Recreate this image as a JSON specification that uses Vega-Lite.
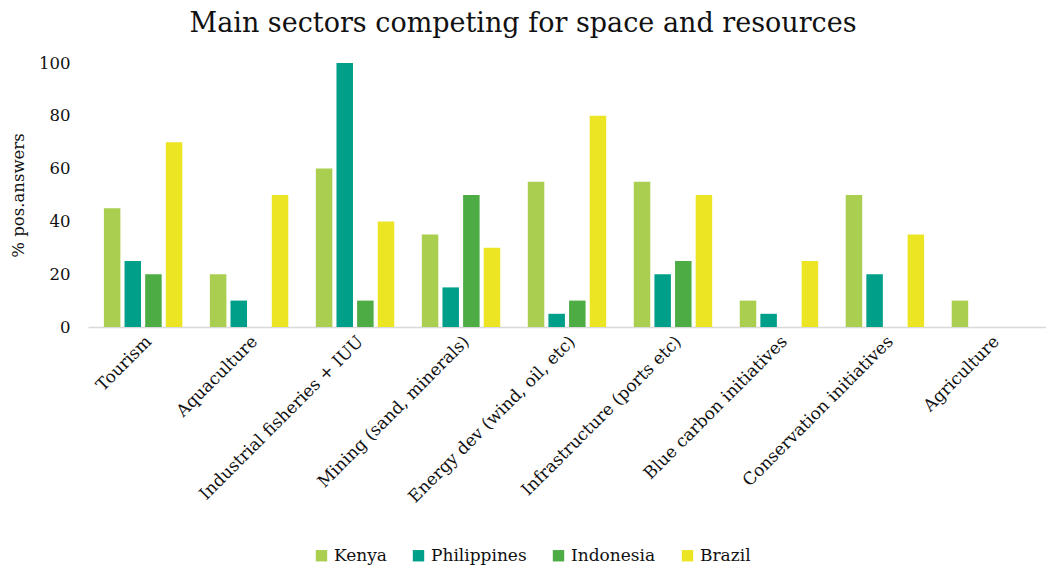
{
  "$schema": "https://vega.github.io/schema/vega-lite/v6.json",
  "width": 958,
  "height": 264,
  "autosize": {"type": "none"},
  "padding": {"left": 88, "top": 63, "right": 0, "bottom": 242},
  "background": "white",
  "title": {
    "text": "Main sectors competing for space and resources",
    "font": "DejaVu Serif",
    "fontSize": 27,
    "fontWeight": "normal",
    "color": "#111111",
    "anchor": "middle",
    "dx": -44,
    "offset": 17
  },
  "config": {
    "view": {"stroke": null},
    "font": "DejaVu Serif"
  },
  "data": {
    "values": [
      {"sector": "Tourism", "country": "Kenya", "value": 45},
      {"sector": "Tourism", "country": "Philippines", "value": 25},
      {"sector": "Tourism", "country": "Indonesia", "value": 20},
      {"sector": "Tourism", "country": "Brazil", "value": 70},
      {"sector": "Aquaculture", "country": "Kenya", "value": 20},
      {"sector": "Aquaculture", "country": "Philippines", "value": 10},
      {"sector": "Aquaculture", "country": "Indonesia", "value": 0},
      {"sector": "Aquaculture", "country": "Brazil", "value": 50},
      {"sector": "Industrial fisheries + IUU", "country": "Kenya", "value": 60},
      {"sector": "Industrial fisheries + IUU", "country": "Philippines", "value": 100},
      {"sector": "Industrial fisheries + IUU", "country": "Indonesia", "value": 10},
      {"sector": "Industrial fisheries + IUU", "country": "Brazil", "value": 40},
      {"sector": "Mining (sand, minerals)", "country": "Kenya", "value": 35},
      {"sector": "Mining (sand, minerals)", "country": "Philippines", "value": 15},
      {"sector": "Mining (sand, minerals)", "country": "Indonesia", "value": 50},
      {"sector": "Mining (sand, minerals)", "country": "Brazil", "value": 30},
      {"sector": "Energy dev (wind, oil, etc)", "country": "Kenya", "value": 55},
      {"sector": "Energy dev (wind, oil, etc)", "country": "Philippines", "value": 5},
      {"sector": "Energy dev (wind, oil, etc)", "country": "Indonesia", "value": 10},
      {"sector": "Energy dev (wind, oil, etc)", "country": "Brazil", "value": 80},
      {"sector": "Infrastructure (ports etc)", "country": "Kenya", "value": 55},
      {"sector": "Infrastructure (ports etc)", "country": "Philippines", "value": 20},
      {"sector": "Infrastructure (ports etc)", "country": "Indonesia", "value": 25},
      {"sector": "Infrastructure (ports etc)", "country": "Brazil", "value": 50},
      {"sector": "Blue carbon initiatives", "country": "Kenya", "value": 10},
      {"sector": "Blue carbon initiatives", "country": "Philippines", "value": 5},
      {"sector": "Blue carbon initiatives", "country": "Indonesia", "value": 0},
      {"sector": "Blue carbon initiatives", "country": "Brazil", "value": 25},
      {"sector": "Conservation initiatives", "country": "Kenya", "value": 50},
      {"sector": "Conservation initiatives", "country": "Philippines", "value": 20},
      {"sector": "Conservation initiatives", "country": "Indonesia", "value": 0},
      {"sector": "Conservation initiatives", "country": "Brazil", "value": 35},
      {"sector": "Agriculture", "country": "Kenya", "value": 10},
      {"sector": "Agriculture", "country": "Philippines", "value": 0},
      {"sector": "Agriculture", "country": "Indonesia", "value": 0},
      {"sector": "Agriculture", "country": "Brazil", "value": 0}
    ]
  },
  "mark": {"type": "bar"},
  "encoding": {
    "x": {
      "field": "sector",
      "type": "nominal",
      "sort": null,
      "scale": {"paddingInner": 0.26, "paddingOuter": 0.15},
      "axis": {
        "title": null,
        "labelAngle": -45,
        "labelFont": "DejaVu Serif",
        "labelFontSize": 17,
        "labelColor": "#111111",
        "labelPadding": 6,
        "ticks": false,
        "domainColor": "#d9d9d9",
        "domainWidth": 1.5,
        "labelLimit": 400
      }
    },
    "xOffset": {
      "field": "country",
      "type": "nominal",
      "sort": ["Kenya", "Philippines", "Indonesia", "Brazil"],
      "scale": {"paddingInner": 0.2}
    },
    "y": {
      "field": "value",
      "type": "quantitative",
      "scale": {"domain": [0, 100]},
      "axis": {
        "title": "% pos.answers",
        "titleFont": "DejaVu Serif",
        "titleFontSize": 16.5,
        "titleFontWeight": "normal",
        "titleColor": "#111111",
        "titleX": -62,
        "titleY": 132,
        "titleAlign": "center",
        "titleBaseline": "bottom",
        "values": [0, 20, 40, 60, 80, 100],
        "labelFont": "DejaVu Serif",
        "labelFontSize": 16.5,
        "labelColor": "#111111",
        "labelPadding": 18,
        "ticks": false,
        "domain": false,
        "grid": false
      }
    },
    "color": {
      "field": "country",
      "type": "nominal",
      "sort": ["Kenya", "Philippines", "Indonesia", "Brazil"],
      "scale": {
        "domain": ["Kenya", "Philippines", "Indonesia", "Brazil"],
        "range": ["#aacf50", "#009f8a", "#4eac45", "#ebe524"]
      },
      "legend": {
        "title": null,
        "orient": "none",
        "direction": "horizontal",
        "legendX": 225,
        "legendY": 484,
        "symbolType": "square",
        "symbolSize": 130,
        "symbolStrokeWidth": 0,
        "labelFont": "DejaVu Serif",
        "labelFontSize": 17,
        "labelColor": "#111111",
        "columnPadding": 23,
        "labelOffset": 4
      }
    }
  }
}
